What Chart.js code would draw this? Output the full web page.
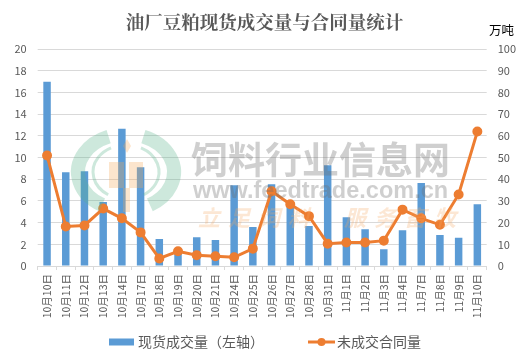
<!DOCTYPE html>
<html>
<head>
<meta charset="utf-8">
<script src="https://cdn.jsdelivr.net/npm/chart.js@4"></script>
<style>
html, body { margin: 0; padding: 0; background: #fff; }
#wrap { width: 529px; height: 361px; }
</style>
</head>
<body>
<div id="wrap"><canvas id="chart" width="529" height="361"></canvas></div>
<script>
var categories = ['10月10日','10月11日','10月12日','10月13日','10月14日','10月17日','10月18日','10月19日','10月20日','10月21日','10月24日','10月25日','10月26日','10月27日','10月28日','10月31日','11月1日','11月2日','11月3日','11月4日','11月7日','11月8日','11月9日','11月10日'];
var spotVolume = [17, 8.65, 8.75, 5.9, 12.65, 9.1, 2.5, 1.4, 2.65, 2.4, 7.45, 3.6, 7.55, 6, 3.7, 9.3, 4.5, 3.4, 1.55, 3.3, 7.65, 2.85, 2.6, 5.7];
var openContracts = [51, 18.2, 18.7, 26.5, 22, 15.5, 3.5, 6.8, 5, 4.5, 4, 8, 34.5, 28.5, 23, 10.3, 10.8, 10.8, 11.7, 26, 22, 19, 33, 62];
var FONT = '"Noto Sans CJK SC", "Liberation Sans", sans-serif';
var BLUE = '#5b9bd5';
var ORANGE = '#ed7d31';

// legend keys are canvases so the gap between the two entries can be wide
function legendKey(isLine) {
    var c = document.createElement('canvas');
    c.width = 66;
    c.height = 10;
    var g = c.getContext('2d');
    if (isLine) {
        g.strokeStyle = ORANGE;
        g.lineWidth = 3;
        g.beginPath();
        g.moveTo(39, 5);
        g.lineTo(66, 5);
        g.stroke();
        g.fillStyle = ORANGE;
        g.beginPath();
        g.arc(52.5, 5, 4, 0, Math.PI * 2);
        g.fill();
    } else {
        g.fillStyle = BLUE;
        g.fillRect(39, 1.5, 25, 7);
    }
    return c;
}

var watermark = {
    id: 'watermark',
    afterLayout: function(chart) {
        chart.legend.left -= 16.5;
        chart.legend.right -= 16.5;
    },
    afterDatasetsDraw: function(chart) {
        var ctx = chart.ctx;
        ctx.save();
        // logo rings
        ctx.strokeStyle = 'rgba(90,180,140,0.3)';
        ctx.lineWidth = 14;
        ctx.beginPath();
        ctx.ellipse(126, 172, 48, 38, 0, -1.2, 1.05);
        ctx.stroke();
        ctx.beginPath();
        ctx.ellipse(126, 172, 48, 38, 0, Math.PI - 1.05, Math.PI + 1.2);
        ctx.stroke();
        ctx.lineWidth = 3;
        ctx.beginPath();
        ctx.ellipse(126, 172, 33, 27, 0, -1.1, 1);
        ctx.stroke();
        ctx.beginPath();
        ctx.ellipse(126, 172, 33, 27, 0, Math.PI - 1, Math.PI + 1.1);
        ctx.stroke();
        // wheat
        ctx.fillStyle = 'rgba(245,170,90,0.3)';
        ctx.fillRect(109, 162, 15, 26);
        ctx.fillRect(129, 162, 14, 26);
        ctx.fillRect(123, 188, 7, 24);
        ctx.beginPath();
        ctx.moveTo(127, 139);
        ctx.lineTo(131, 146);
        ctx.lineTo(127, 153);
        ctx.lineTo(123, 146);
        ctx.closePath();
        ctx.fill();
        // text
        ctx.textBaseline = 'middle';
        ctx.textAlign = 'left';
        ctx.font = 'bold 37px ' + FONT;
        ctx.fillStyle = 'rgba(110,110,110,0.33)';
        ctx.fillText('饲料行业信息网', 191, 160);
        ctx.font = 'bold 23.5px "Liberation Sans", sans-serif';
        ctx.fillText('www.feedtrade.com.cn', 193, 192);
        ctx.font = 'italic bold 22px ' + FONT;
        ctx.fillStyle = 'rgba(245,170,100,0.28)';
        ctx.letterSpacing = '8px';
        ctx.fillText('立足饲料  服务畜牧', 198, 218);
        ctx.restore();
    }
};

var unitLabel = {
    id: 'unitLabel',
    afterDraw: function(chart) {
        var ctx = chart.ctx;
        ctx.save();
        ctx.font = '12.5px ' + FONT;
        ctx.fillStyle = '#000';
        ctx.textAlign = 'left';
        ctx.textBaseline = 'middle';
        ctx.fillText('万吨', 489, 30);
        ctx.restore();
    }
};

new Chart(document.getElementById('chart'), {
    data: {
        labels: categories,
        datasets: [{
            type: 'bar',
            label: '现货成交量（左轴）',
            data: spotVolume,
            yAxisID: 'y',
            backgroundColor: BLUE,
            categoryPercentage: 1,
            barPercentage: 0.4,
            order: 2
        }, {
            type: 'line',
            label: '未成交合同量',
            data: openContracts,
            yAxisID: 'y2',
            borderColor: ORANGE,
            backgroundColor: ORANGE,
            borderWidth: 3,
            pointRadius: 3.5,
            pointBackgroundColor: ORANGE,
            pointBorderColor: ORANGE,
            tension: 0,
            order: 1
        }]
    },
    plugins: [watermark, unitLabel],
    options: {
        responsive: false,
        animation: false,
        layout: { padding: { top: 0, bottom: 2, left: 0, right: 0 } },
        scales: {
            x: {
                grid: { display: true, drawOnChartArea: false, color: '#d9d9d9', tickLength: 4 },
                border: { color: '#d9d9d9' },
                ticks: { color: '#595959', font: { size: 10.5, family: FONT }, maxRotation: 90, minRotation: 90, autoSkip: false, padding: 4 },
                afterFit: function(axis) { axis.height = 59; }
            },
            y: {
                position: 'left',
                min: 0, max: 20,
                ticks: { stepSize: 2, color: '#595959', font: { size: 11, family: FONT }, padding: 11 },
                grid: { color: '#d9d9d9', tickLength: 0 },
                border: { display: false },
                afterFit: function(axis) { axis.width = 37.7; }
            },
            y2: {
                position: 'right',
                min: 0, max: 100,
                ticks: { stepSize: 10, color: '#595959', font: { size: 11, family: FONT }, padding: 11 },
                grid: { display: false, tickLength: 0 },
                border: { display: false },
                afterFit: function(axis) { axis.width = 42.3; }
            }
        },
        plugins: {
            title: {
                display: true,
                text: '油厂豆粕现货成交量与合同量统计',
                color: '#595959',
                font: { size: 18.5, family: '"Noto Serif CJK SC", "Noto Sans CJK SC", serif', weight: 'bold' },
                padding: { top: 11, bottom: 16 }
            },
            legend: {
                position: 'bottom',
                labels: {
                    color: '#595959',
                    font: { size: 14, family: FONT },
                    usePointStyle: true,
                    pointStyleWidth: 56,
                    boxHeight: 10,
                    padding: 10,
                    sort: function(a, b) { return a.datasetIndex - b.datasetIndex; },
                    generateLabels: function(chart) {
                        var items = Chart.defaults.plugins.legend.labels.generateLabels(chart);
                        items.forEach(function(item) {
                            item.pointStyle = legendKey(item.datasetIndex === 1);
                        });
                        return items;
                    }
                }
            },
            tooltip: { enabled: false }
        }
    }
});
</script>
</body>
</html>
